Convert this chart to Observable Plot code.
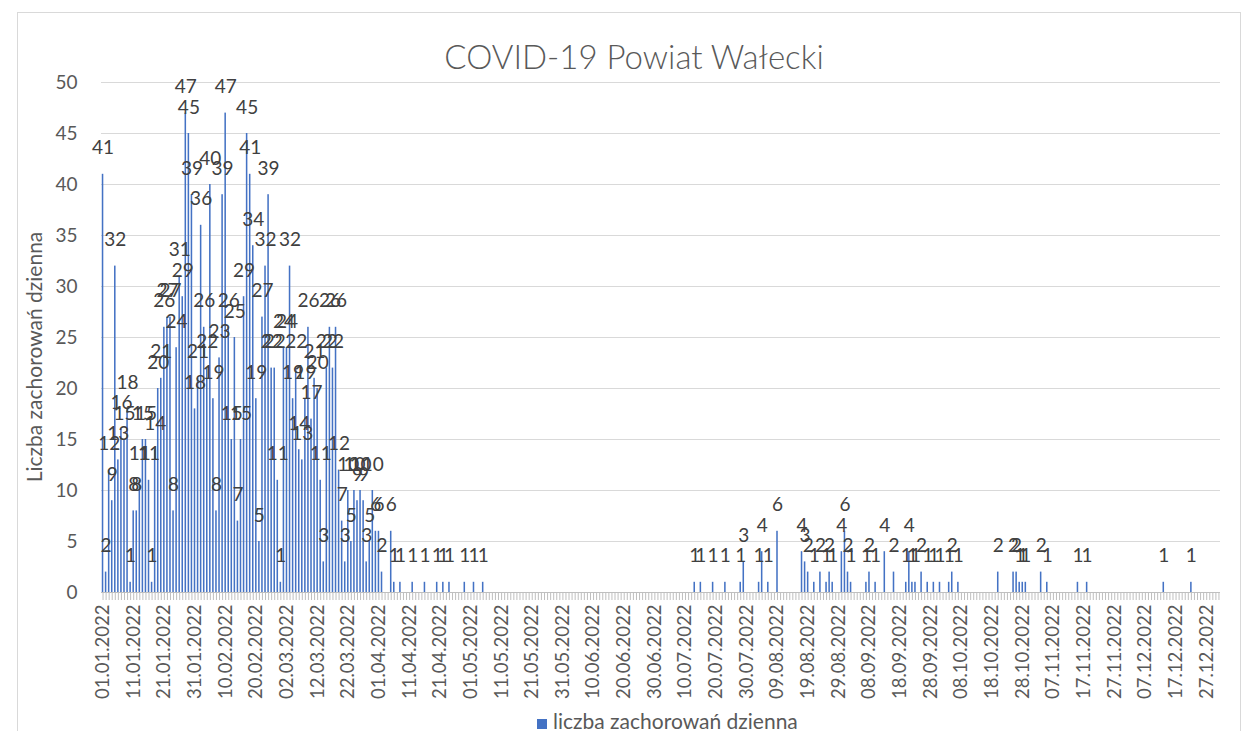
<!DOCTYPE html>
<html><head><meta charset="utf-8">
<script src="https://cdn.jsdelivr.net/npm/d3@7"></script>
<script src="https://cdn.jsdelivr.net/npm/@observablehq/plot@0.6"></script>
<style>
body{margin:0;background:#fff;font-family:Lato,"Open Sans",sans-serif;}
#wrap{position:relative;width:1245px;height:731px;overflow:hidden;background:#fff;}
#frame{position:absolute;left:17px;top:12px;width:1222px;height:760px;border:1px solid #d9d9d9;}
#title{position:absolute;top:36px;left:0;width:1268px;text-align:center;font-size:33px;font-weight:300;color:#595959;}
#ylab{position:absolute;left:33px;top:357px;transform:translate(-50%,-50%) rotate(-90deg);font-size:21px;color:#595959;white-space:nowrap;}
#legend{position:absolute;top:708px;left:537px;font-size:21px;color:#595959;white-space:nowrap;}
#legend .sw{display:inline-block;width:10px;height:10px;background:#4472C4;margin-right:6px;}
#chart{position:absolute;left:0;top:0;}
</style></head><body>
<div id="wrap">
<div id="frame"></div>
<div id="chart"></div>
<div id="title">COVID-19 Powiat Wałecki</div>
<div id="ylab">Liczba zachorowań dzienna</div>
<div id="legend"><span class="sw"></span>liczba zachorowań dzienna</div>
</div>
<script>
// Daily new cases, 01.01.2022 onwards (first wave, consecutive days)
const waveValues = [41,2,12,9,32,13,16,15,18,1,8,8,11,15,15,11,1,14,20,21,
  26,27,27,8,24,31,29,47,45,39,18,21,36,26,22,40,19,8,23,39,
  47,26,15,25,7,15,29,45,41,34,19,5,27,32,39,22,22,11,1,24,
  24,32,19,22,14,13,19,26,17,21,20,11,3,22,26,22,26,12,7,3,
  10,5,10,9,10,9,3,5,10,6,6,2,0,0,6];
// Sparse later days (day index in year, value)
const laterDays =   [95,97,101,105,109,111,113,118,121,124,
  193,195,199,203,208,209,214,215,217,220,228,229,230,232,234,236,237,238,
  241,242,243,244,249,250,252,255,258,262,263,264,265,267,269,271,273,276,277,279,
  292,297,298,299,300,301,306,308,318,321,346,355];
const laterValues = [1,1,1,1,1,1,1,1,1,1,
  1,1,1,1,1,3,1,4,1,6,4,3,2,1,2,1,2,1,
  4,6,2,1,1,2,1,4,2,1,4,1,1,2,1,1,1,1,2,1,
  2,2,2,1,1,1,2,1,1,1,1,1];
const yTicks = [0,5,10,15,20,25,30,35,40,45,50];

const fmt = d3.timeFormat("%d.%m.%Y");
const days = d3.range(365).map(i => fmt(new Date(2022, 0, 1 + i)));
const tickLabels = days.filter((d, i) => i % 10 === 0);

const counts = days.map((d, i) => i < waveValues.length ? waveValues[i] : 0);
laterDays.forEach((d, k) => { counts[d] = laterValues[k]; });
const data = days.map((d, i) => ({date: d, value: counts[i]}));

const chart = Plot.plot({
  width: 1245, height: 708,
  marginLeft: 101, marginRight: 25, marginTop: 82, marginBottom: 116,
  style: {fontFamily: "Lato, 'Open Sans', sans-serif", fontSize: "17px", color: "#595959", background: "transparent"},
  x: {type: "band", domain: days, paddingInner: 0.5, paddingOuter: 0.25, round: false},
  y: {domain: [0, 50]},
  marks: [
    Plot.gridY(yTicks, {stroke: "#d9d9d9", strokeOpacity: 1, strokeWidth: 1}),
    Plot.axisY(yTicks, {tickSize: 0, tickPadding: 24, label: null, fontSize: 19}),
    Plot.barY(data, {x: "date", y: "value", fill: "#4472C4"}),
    Plot.axisX(days, {tickSize: 8, tickFormat: () => "", stroke: "#bfbfbf", label: null}),
    Plot.axisX(tickLabels, {tickSize: 0, tickRotate: -90, tickPadding: 12, label: null, fontSize: 18.5}),
    Plot.ruleY([0], {stroke: "#bfbfbf"}),
    Plot.text(data.filter(d => d.value > 0), {x: "date", y: "value", text: d => String(d.value), lineAnchor: "middle", dy: -26, fontSize: 19, fill: "#404040"})
  ]
});
document.getElementById("chart").appendChild(chart);
</script>
</body></html>
